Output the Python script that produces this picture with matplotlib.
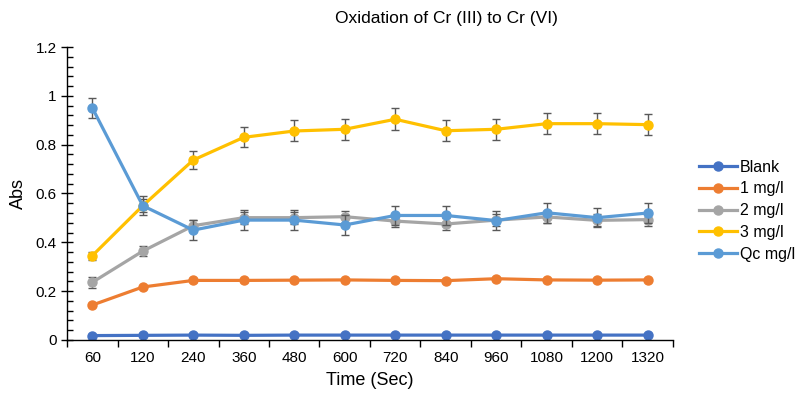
import matplotlib
matplotlib.use('Agg')
import numpy as np
import matplotlib.pyplot as plt
from matplotlib.ticker import MultipleLocator

plt.rcParams['font.family'] = ['Liberation Sans', 'DejaVu Sans']

times = ['60', '120', '240', '360', '480', '600', '720', '840', '960', '1080', '1200', '1320']

blank = [0.018, 0.019, 0.02, 0.019, 0.02, 0.02, 0.02, 0.02, 0.02, 0.02, 0.02, 0.02]
mg1 = [0.143, 0.217, 0.244, 0.244, 0.245, 0.246, 0.244, 0.243, 0.251, 0.246, 0.245, 0.246]
mg2 = [0.236, 0.364, 0.468, 0.501, 0.501, 0.505, 0.487, 0.475, 0.491, 0.504, 0.49, 0.493]
mg3 = [0.345, 0.55, 0.737, 0.83, 0.856, 0.863, 0.904, 0.857, 0.863, 0.886, 0.886, 0.882]
qc = [0.951, 0.55, 0.45, 0.491, 0.491, 0.471, 0.51, 0.51, 0.489, 0.521, 0.501, 0.52]

err_blank = [0.002] * 12
err_mg1 = [0.005] * 12
err_mg2 = [0.022, 0.022, 0.023, 0.025, 0.025, 0.025, 0.024, 0.024, 0.025, 0.025, 0.025, 0.025]
err_mg3 = [0.017, 0.027, 0.037, 0.041, 0.043, 0.043, 0.045, 0.043, 0.043, 0.044, 0.044, 0.044]
err_qc = [0.04] * 12

series = [
    ('Blank', blank, err_blank, '#4472C4'),
    ('1 mg/l', mg1, err_mg1, '#ED7D31'),
    ('2 mg/l', mg2, err_mg2, '#A5A5A5'),
    ('3 mg/l', mg3, err_mg3, '#FFC000'),
    ('Qc mg/l', qc, err_qc, '#5B9BD5'),
]

fig = plt.figure(figsize=(7.95, 3.93), dpi=100)
ax = fig.add_axes([0.0843, 0.1349, 0.8465 - 0.0843, 0.8804 - 0.1349])

x = np.arange(len(times))
for i, (name, vals, err, col) in enumerate(series):
    ax.errorbar(x, vals, yerr=err, fmt='none', ecolor='#595959', elinewidth=1,
                capsize=3, capthick=1, zorder=2 + i)
    ax.plot(x, vals, color=col, lw=2.3, marker='o', ms=6.5, label=name, zorder=2 + i)

ax.set_xlim(-0.5, len(times) - 0.5)
ax.set_ylim(0, 1.2)
ax.set_xticks(x)
ax.set_xticklabels(times)
ax.set_xticks(np.arange(-0.5, len(times)), minor=True)
ax.tick_params(axis='x', which='major', length=0, labelsize=11, pad=8)
ax.tick_params(axis='x', which='minor', length=5, direction='out', width=1)

ax.yaxis.set_major_locator(MultipleLocator(0.2))
ax.yaxis.set_minor_locator(MultipleLocator(0.04))
ax.set_yticks([0, 0.2, 0.4, 0.6, 0.8, 1.0, 1.2])
ax.set_yticklabels(['0', '0.2', '0.4', '0.6', '0.8', '1', '1.2'])
ax.tick_params(axis='y', which='major', length=8, direction='inout', width=1, labelsize=11)
ax.tick_params(axis='y', which='minor', length=4, direction='in', width=1)

for s in ['top', 'right']:
    ax.spines[s].set_visible(False)
ax.spines['left'].set_linewidth(1)
ax.spines['bottom'].set_linewidth(1)

ax.set_xlabel('Time (Sec)', fontsize=13, labelpad=5)
ax.set_ylabel('Abs', fontsize=13, labelpad=6)

fig.text(446 / 795, 1 - 18 / 393, 'Oxidation of Cr (III) to Cr (VI)', ha='center', va='center', fontsize=12.5)

fig.legend(loc='upper left', bbox_to_anchor=(694 / 795, 1 - 155 / 393), frameon=False,
           fontsize=11.5, handlelength=2.4, labelspacing=0.42, handletextpad=0.15,
           borderaxespad=0, borderpad=0.3)

fig.savefig('out.png', dpi=100)
